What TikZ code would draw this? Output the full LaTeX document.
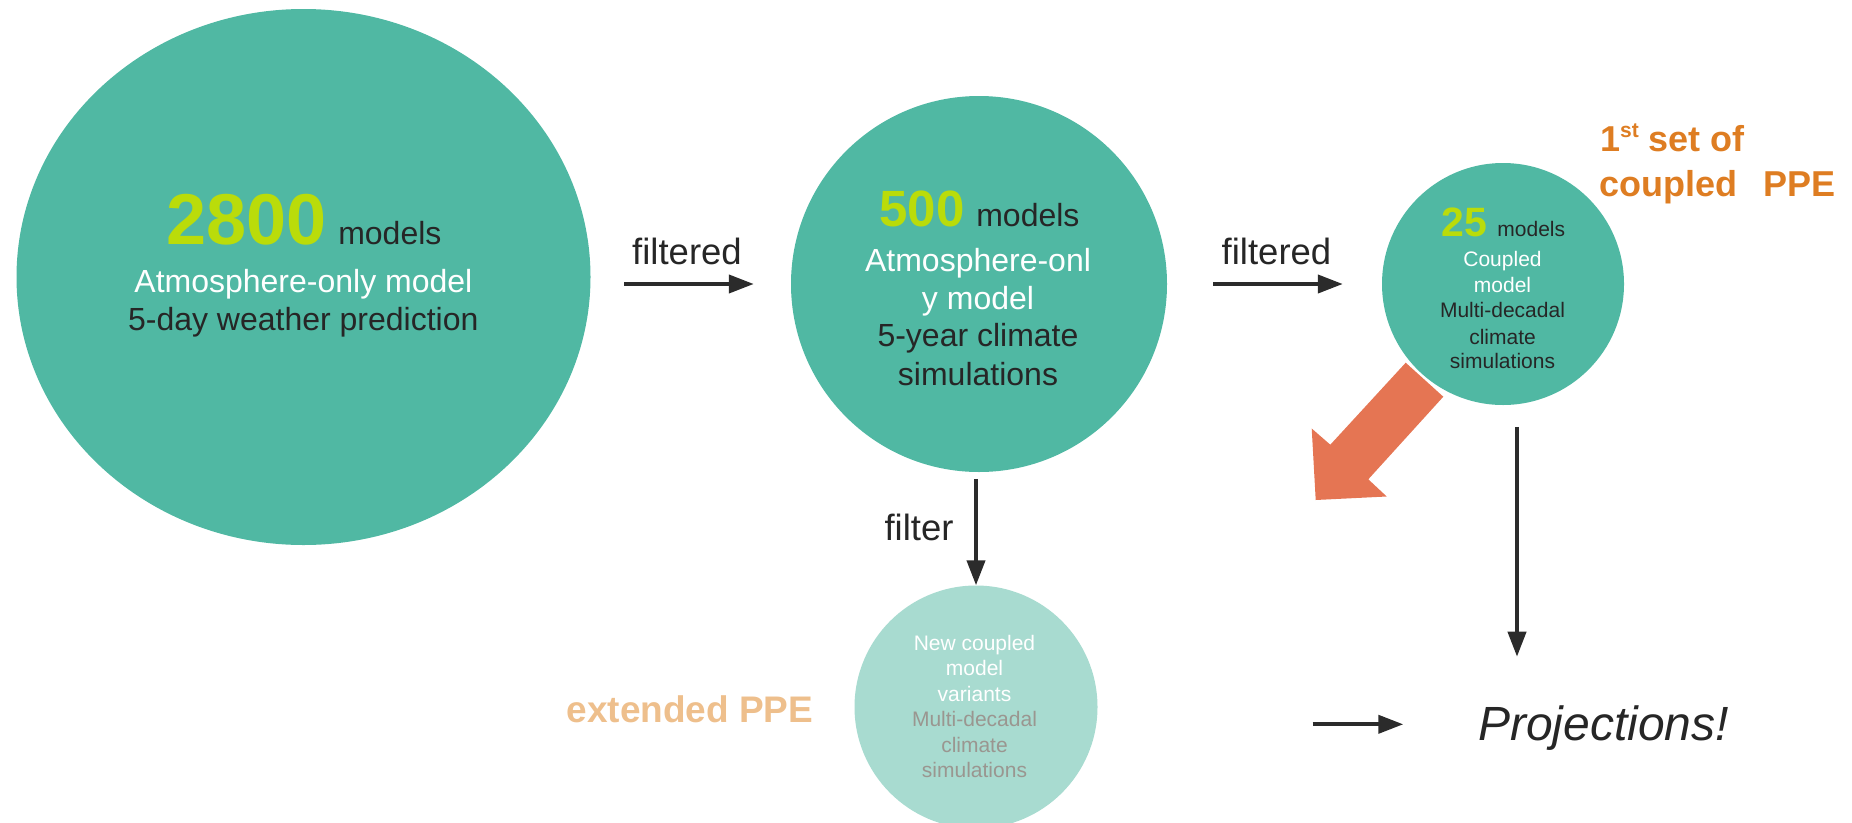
\documentclass[tikz,border=0pt]{standalone}
\usepackage{fontspec}
\setmainfont{Liberation Sans}
\usetikzlibrary{arrows.meta,shapes.geometric}
\definecolor{cteal}{HTML}{50B8A3}
\definecolor{clight}{HTML}{A8DBD0}
\definecolor{clime}{HTML}{BADC0A}
\definecolor{cdark}{HTML}{262626}
\definecolor{corange}{HTML}{E57553}
\definecolor{cppe}{HTML}{DE7D22}
\definecolor{cext}{HTML}{EEBF8C}
\definecolor{cgrey}{HTML}{9A9690}
\definecolor{carrow}{HTML}{2B2B2B}
\newcommand\fs[2]{\fontsize{#1pt}{#2pt}\selectfont}
\begin{document}
\begin{tikzpicture}[x=1pt,y=-1pt,
  blob/.style={ellipse, fill=cteal, draw=none, inner sep=0pt},
  txt/.style={inner sep=0pt, anchor=base, text=cdark},
  big/.style={txt, font=\fs{32}{38}},
  small/.style={txt, font=\fs{21}{25}},
  lbl/.style={txt, font=\fs{36.5}{40}},
  arr/.style={draw=carrow, line width=4pt, -{Triangle[length=25pt,width=18pt]}}]
\useasboundingbox (0,0) rectangle (1852,822);

% circles
\node[blob, minimum width=574pt, minimum height=536pt] (c0) at (303.5,277) {};
\node[blob, circle, minimum size=376pt] (c1) at (979,284) {};
\node[blob, circle, minimum size=242pt] (c2) at (1503,284) {};
\node[blob, circle, fill=clight, minimum size=243pt] (c3) at (976,707) {};

% texts of circle 1
\node[txt] (n0) at (304,244) {{\fs{72}{72}\bfseries\color{clime}2800}\hspace{11.5pt}{\fs{32}{38}models}};
\node[big, text=white] (t0a) at (303.4,292.7) {Atmosphere-only model};
\node[big] (t0b) at (303.3,330.7) {5-day weather prediction};

% texts of circle 2
\node[txt] (n1) at (979.5,226.7) {{\fs{51}{51}\bfseries\color{clime}500}\hspace{11.7pt}{\fs{32}{38}models}};
\node[big, text=white] (t1a) at (978,271.7) {Atmosphere-onl};
\node[big, text=white] (t1b) at (978,309) {y model};
\node[big] (t1c) at (978,346.7) {5-year climate};
\node[big] (t1d) at (978,385) {simulations};

% texts of circle 3
\node[txt] (n2) at (1503.5,236.7) {{\fs{41}{41}\bfseries\color{clime}25}\hspace{10pt}{\fs{21}{25}models}};
\node[small, text=white] (t2a) at (1502.5,266.7) {Coupled};
\node[small, text=white] (t2b) at (1502.5,292) {model};
\node[small] (t2c) at (1502.5,317.7) {Multi-decadal};
\node[small] (t2d) at (1502.5,344) {climate};
\node[small] (t2e) at (1502.5,368) {simulations};

% texts of circle 4
\node[small, text=white] (t3a) at (974.5,650) {New coupled};
\node[small, text=white] (t3b) at (974.5,675.5) {model};
\node[small, text=white] (t3c) at (974.5,701) {variants};
\node[small, text=cgrey] (t3d) at (974.5,726.5) {Multi-decadal};
\node[small, text=cgrey] (t3e) at (974.5,752) {climate};
\node[small, text=cgrey] (t3f) at (974.5,777.5) {simulations};

% labels
\node[lbl] (f1) at (687,264) {filtered};
\node[lbl] (f2) at (1276.5,264) {filtered};
\node[lbl] (f3) at (919,540) {filter};
\node[txt, anchor=base west, text=cppe, font=\fs{36}{45}\bfseries] (ppe1) at (1600,151.7) {1\raisebox{14pt}{\fs{21}{21}st} set of};
\node[txt, anchor=base west, text=cppe, font=\fs{36}{45}\bfseries] (ppe2) at (1599,196.7) {coupled\hspace{26pt}PPE};
\node[txt, text=cext, font=\fs{37}{40}\bfseries] (ext) at (690,722.7) {extended PPE};
\node[txt, anchor=base west, font=\fs{48}{48}\itshape] (proj) at (1478,740.7) {Projections!};

% connectors
\draw[arr, shorten <=33.5pt, shorten >=37pt] (c0.east |- c1.west) -- (c1.west);
\draw[arr, shorten <=46pt, shorten >=39pt] (c1) -- (c2);
\draw[arr, shorten <=6.7pt] (c3.north |- c1.south) -- (c3.north);
\coordinate (pa) at (1517,656.7);
\draw[arr, shorten <=21.7pt] (c2.south -| pa) -- (pa);
\coordinate (pb) at (1312.7,724.3);
\draw[arr, shorten >=74.7pt] (pb) -- (pb -| proj.west);

% big orange arrow
\fill[corange] (1405.7,362.7) -- (1443.3,396.7) -- (1368.3,479.3) -- (1386.7,496.5)
  -- (1315.7,500) -- (1311.7,428.5) -- (1330.3,444.7) -- cycle;
\end{tikzpicture}
\end{document}
